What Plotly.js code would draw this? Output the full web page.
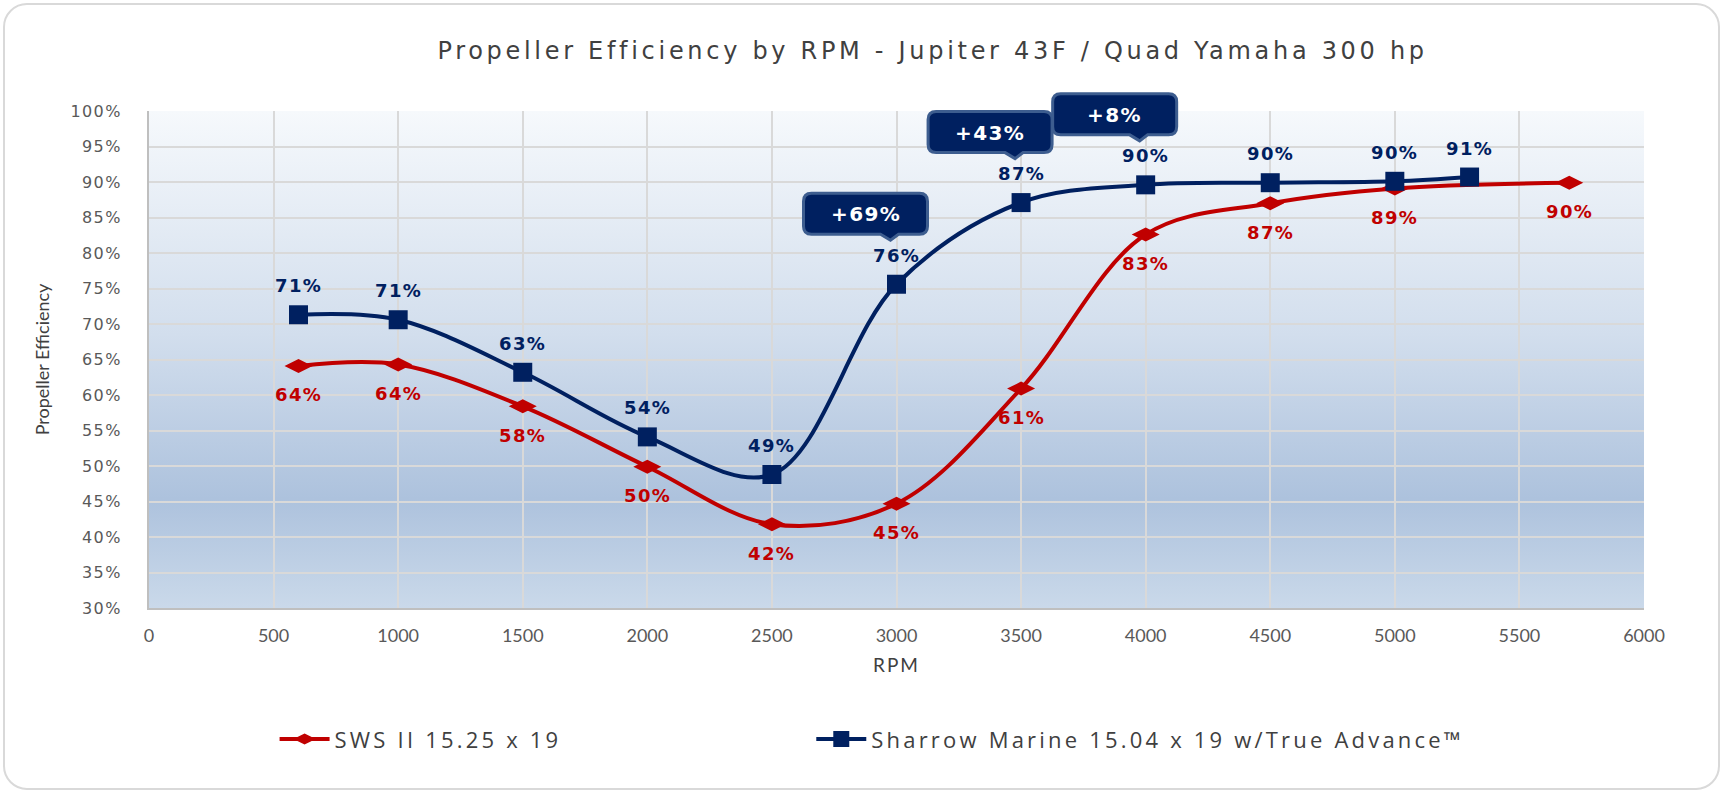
<!DOCTYPE html>
<html>
<head>
<meta charset="utf-8">
<script src="https://cdn.plot.ly/plotly-3.0.1.min.js"></script>
<style>
  html, body { margin: 0; padding: 0; background: #ffffff; }
  #frame {
    position: absolute; left: 3px; top: 3px; width: 1717px; height: 787px;
    border: 2px solid #d9d9d9; border-radius: 24px; box-sizing: border-box;
  }
  #chart { position: absolute; left: 0; top: 0; width: 1727px; height: 797px; }
  /* the reference text is drawn stretched, widen it a little
     (plain class selectors so plotly's text measuring sees them too) */
  text.gtitle { letter-spacing: 3.7px; }
  text.legendtext, text.legend2text { letter-spacing: 3.2px; }
  text.annotation-text { letter-spacing: 1.4px; }
  .ytick text { letter-spacing: 1.4px; }
  text.xtitle { letter-spacing: 2px; }
</style>
</head>
<body>
<div id="frame"></div>
<div id="chart"></div>
<script>
// values (percent)
const swsRpm = [600, 1000, 1500, 2000, 2500, 3000, 3500, 4000, 4500, 5000, 5700];
const swsEff = [64.1, 64.3, 58.4, 49.9, 41.8, 44.7, 60.9, 82.6, 87.0, 89.1, 89.9];

const sharrowRpm = [600, 1000, 1500, 2000, 2500, 3000, 3500, 4000, 4500, 5000, 5300];
const sharrowEff = [71.3, 70.6, 63.2, 54.1, 48.8, 75.6, 87.1, 89.6, 89.9, 90.1, 90.7];

// rpm points that get a "+x%" gain callout
const calloutRpm = [3000, 3500, 4000];

const seriesNames = ['SWS II 15.25 x 19', 'Sharrow Marine 15.04 x 19 w/True Advance\u2122'];

const yRange = [0.3, 1.0];

const RED = '#c00000';
const NAVY = '#002060';
const LABEL_FONT = 'Verdana, DejaVu Sans, sans-serif';

const data = [
  {
    x: swsRpm,
    y: swsEff.map(v => v / 100),
    name: seriesNames[0],
    type: 'scatter',
    mode: 'lines+markers',
    line: { color: RED, width: 4, shape: 'spline', smoothing: 1 },
    marker: { symbol: 'diamond-wide', size: 20, color: RED },
    hoverinfo: 'x+y',
    legend: 'legend',
  },
  {
    x: sharrowRpm,
    y: sharrowEff.map(v => v / 100),
    name: seriesNames[1],
    type: 'scatter',
    mode: 'lines+markers',
    line: { color: NAVY, width: 4, shape: 'spline', smoothing: 1 },
    marker: { symbol: 'square', size: 19, color: NAVY },
    hoverinfo: 'x+y',
    legend: 'legend2',
  },
];

const annotations = [];
const shapes = [];

// data labels: navy above, red below
sharrowRpm.forEach((r, i) => {
  annotations.push({
    x: r, y: sharrowEff[i] / 100, xref: 'x', yref: 'y',
    text: Math.round(sharrowEff[i]) + '%', showarrow: false, yshift: 29,
    font: { family: LABEL_FONT, size: 18, color: NAVY, weight: 'bold' },
  });
});
swsRpm.forEach((r, i) => {
  annotations.push({
    x: r, y: swsEff[i] / 100, xref: 'x', yref: 'y',
    text: Math.round(swsEff[i]) + '%', showarrow: false, yshift: -29,
    font: { family: LABEL_FONT, size: 18, color: RED, weight: 'bold' },
  });
});

// callout bubble: rounded box with a small notch, in pixels around the point
function bubblePath() {
  const l = -93, r = 31, b = 50, t = 91, k = 8;
  return 'M' + (l + k) + ',' + b +
    ' L-16,' + b + ' L-6,' + (b - 6) + ' L2,' + b +
    ' L' + (r - k) + ',' + b + ' Q' + r + ',' + b + ' ' + r + ',' + (b + k) +
    ' L' + r + ',' + (t - k) + ' Q' + r + ',' + t + ' ' + (r - k) + ',' + t +
    ' L' + (l + k) + ',' + t + ' Q' + l + ',' + t + ' ' + l + ',' + (t - k) +
    ' L' + l + ',' + (b + k) + ' Q' + l + ',' + b + ' ' + (l + k) + ',' + b + ' Z';
}

calloutRpm.forEach(r => {
  const s = sharrowEff[sharrowRpm.indexOf(r)];
  const w = swsEff[swsRpm.indexOf(r)];
  const gain = Math.round((s / w - 1) * 100);
  // paper y so the bubble is not clipped at the top of the plot
  const py = (s / 100 - yRange[0]) / (yRange[1] - yRange[0]);
  shapes.push({
    type: 'path', xref: 'x', yref: 'paper',
    xsizemode: 'pixel', ysizemode: 'pixel',
    xanchor: r, yanchor: py,
    path: bubblePath(),
    fillcolor: NAVY,
    line: { color: '#3d5d8f', width: 3 },
    layer: 'above',
  });
  annotations.push({
    x: r, y: py, xref: 'x', yref: 'paper',
    xanchor: 'center', yanchor: 'middle',
    text: '+' + gain + '%', showarrow: false, xshift: -31, yshift: 70,
    font: { family: LABEL_FONT, size: 20, color: '#ffffff', weight: 'bold' },
  });
});

// plot-area gradient as an svg image
const gradSvg =
  '<svg xmlns="http://www.w3.org/2000/svg" width="100" height="100" preserveAspectRatio="none">' +
  '<defs><linearGradient id="g" x1="0" y1="0" x2="0" y2="1">' +
  '<stop offset="0" stop-color="#f6f9fc"/>' +
  '<stop offset="0.45" stop-color="#d2deed"/>' +
  '<stop offset="0.78" stop-color="#adc2dd"/>' +
  '<stop offset="1" stop-color="#cad9ea"/>' +
  '</linearGradient></defs><rect width="100" height="100" fill="url(#g)"/></svg>';

const legendStyle = {
  orientation: 'h',
  y: -0.264, yanchor: 'middle',
  xanchor: 'left',
  itemwidth: 50,
  font: { family: 'Open Sans, sans-serif', size: 22, color: '#404040' },
  bgcolor: 'rgba(0,0,0,0)',
};

const layout = {
  width: 1727,
  height: 797,
  margin: { l: 149, r: 83, t: 111, b: 189 },
  paper_bgcolor: 'rgba(0,0,0,0)',
  plot_bgcolor: 'rgba(0,0,0,0)',
  showlegend: true,
  title: {
    text: 'Propeller Efficiency by RPM - Jupiter 43F / Quad Yamaha 300 hp',
    xref: 'container', yref: 'container',
    x: 0.54, y: 0.937, xanchor: 'center', yanchor: 'middle',
    font: { family: 'Verdana, DejaVu Sans, sans-serif', size: 24, color: '#404040' },
  },
  xaxis: {
    range: [0, 6000],
    dtick: 500,
    tick0: 0,
    showgrid: true,
    gridcolor: '#d9d9d9',
    gridwidth: 2,
    zeroline: false,
    showline: true,
    linecolor: '#bfbfbf',
    linewidth: 2,
    ticks: '',
    ticklabelstandoff: 10,
    tickfont: { family: 'Lato, sans-serif', size: 18, color: '#595959' },
    title: { text: 'RPM', standoff: 14, font: { family: 'Lato, sans-serif', size: 19, color: '#404040' } },
  },
  yaxis: {
    range: yRange,
    dtick: 0.05,
    tick0: 0.3,
    tickformat: '.0%',
    showgrid: true,
    gridcolor: '#d9d9d9',
    gridwidth: 2,
    zeroline: false,
    showline: true,
    linecolor: '#bfbfbf',
    linewidth: 2,
    ticks: '',
    ticklabelstandoff: 22,
    tickfont: { family: 'DejaVu Sans, sans-serif', size: 16, color: '#595959' },
    title: { text: 'Propeller Efficiency', standoff: 16, font: { family: 'Lato, sans-serif', size: 18, color: '#404040' } },
  },
  // one legend per series so the gap between them matches the reference
  legend: Object.assign({}, legendStyle, { x: 0.084 }),
  legend2: Object.assign({}, legendStyle, { x: 0.443 }),
  images: [{
    source: 'data:image/svg+xml;charset=utf-8,' + encodeURIComponent(gradSvg),
    xref: 'paper', yref: 'paper',
    x: 0, y: 1, sizex: 1, sizey: 1,
    xanchor: 'left', yanchor: 'top',
    sizing: 'stretch', layer: 'below',
  }],
  shapes: shapes,
  annotations: annotations,
};

Plotly.newPlot('chart', data, layout, { displayModeBar: false, staticPlot: true });
</script>
</body>
</html>
